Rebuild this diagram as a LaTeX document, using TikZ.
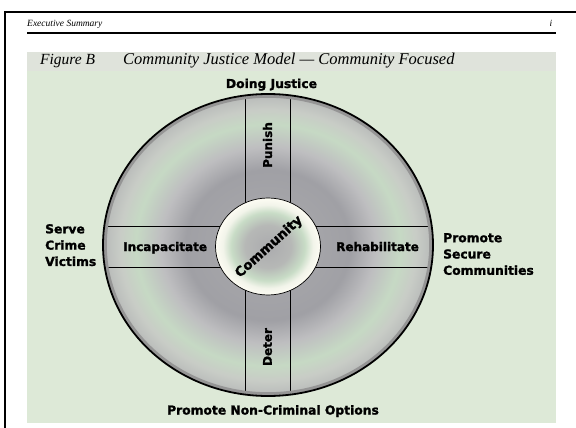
\documentclass[tikz,border=0pt]{standalone}
\usepackage{fontspec}
\newfontfamily\labfont{DejaVu Sans}[BoldFeatures={FakeBold=1.6}]
\newfontfamily\serfont{Liberation Serif}
\definecolor{panelgreen}{HTML}{DDE9D7}
\definecolor{titleband}{HTML}{DFE3DB}
\definecolor{dA}{HTML}{9C9CA0}
\definecolor{dB}{HTML}{A4A4A8}
\definecolor{dC}{HTML}{A0A0A5}
\definecolor{dD}{HTML}{BEBEC0}
\definecolor{dE}{HTML}{C6D9C4}
\definecolor{dF}{HTML}{C8CCC6}
\definecolor{dG}{HTML}{BEC1BE}
\definecolor{dH}{HTML}{B6B8B6}
\definecolor{rimgray}{HTML}{959595}
\definecolor{cA}{HTML}{ABABAE}
\definecolor{cB}{HTML}{B6B8B6}
\definecolor{cC}{HTML}{C8DCC6}
\definecolor{cD}{HTML}{F2F4EA}
\definecolor{cE}{HTML}{FDFCF3}
\pgfdeclareradialshading{discshade}{\pgfpoint{0bp}{0bp}}{color(0bp)=(dA);color(8bp)=(dB);color(12.5bp)=(dC);color(16.25bp)=(dD);color(20bp)=(dE);color(22.5bp)=(dF);color(24bp)=(dG);color(25bp)=(dH);color(50bp)=(dH)}
\pgfdeclareradialshading{coreshade}{\pgfpoint{0bp}{0bp}}{color(0bp)=(cA);color(11bp)=(cB);color(17.5bp)=(cC);color(21.5bp)=(cD);color(25bp)=(cE);color(50bp)=(cE)}
\tikzset{
  lab/.style={font=\labfont\bfseries\fontsize{12.3}{16.3}\selectfont, inner sep=0pt},
  inlab/.style={font=\labfont\bfseries\fontsize{12}{14}\selectfont, inner sep=0pt},
  ttl/.style={font=\serfont\itshape\fontsize{15.5}{18}\selectfont, inner sep=0pt},
  hdr/.style={font=\serfont\itshape\fontsize{9.5}{11}\selectfont, inner sep=0pt},
  bandline/.style={line width=0.6pt, black}
}
\begin{document}
\begin{tikzpicture}[x=1pt,y=-1pt]
\useasboundingbox (0,0) rectangle (576,428);
\fill[white] (0,0) rectangle (576,428);
% page frame
\draw[line width=1.8pt] (5,428) -- (5,12) -- (576,12);
\node[hdr, anchor=base west] (hdrtxt) at (27,27) {Executive Summary};
\node[hdr, anchor=base] (pgno) at (551,27) {i};
\draw[line width=1.6pt] (27,33) -- (556,33);
% panel
\fill[panelgreen] (27,52) rectangle (556,423);
\fill[titleband] (27,52) rectangle (556,71);
\node[ttl, anchor=base west] (figb) at (40,65) {Figure B};
\node[ttl, anchor=base west, font=\serfont\itshape\fontsize{16.5}{18}\selectfont] (figtitle) at (123,65) {Community Justice Model — Community Focused};
% big disc
\coordinate (c) at (268,245);
\shade[shading=discshade] (c) ellipse [x radius=165pt, y radius=151pt];
\begin{scope}
  \clip (c) ellipse [x radius=165pt, y radius=151pt];
  \draw[bandline] (245,80) -- (245,410);
  \draw[bandline] (290,80) -- (290,410);
  \draw[bandline] (90,226) -- (450,226);
  \draw[bandline] (90,267) -- (450,267);
\end{scope}
\draw[line width=3pt, rimgray] (c) ellipse [x radius=162.7pt, y radius=148.7pt];
\draw[line width=1.8pt] (c) ellipse [x radius=165pt, y radius=151pt];
% inner disc
\coordinate (ci) at (268,246.5);
\shade[shading=coreshade] (ci) ellipse [x radius=52.5pt, y radius=48.5pt];
\draw[line width=0.7pt] (ci) ellipse [x radius=52.5pt, y radius=48.5pt];
% labels
\node[lab, anchor=base] (doing) at (271.5,88) {Doing Justice};
\node[lab, anchor=north west, align=left] (serve) at (45,224) {Serve\\Crime\\Victims};
\node[lab, anchor=north west, align=left] (secure) at (443,233) {Promote\\Secure\\Communities};
\node[lab, anchor=base] (noncrim) at (273,414.5) {Promote Non-Criminal Options};
\node[inlab, anchor=base west] (incap) at (123,251) {Incapacitate};
\node[inlab, anchor=base west] (rehab) at (336,251) {Rehabilitate};
\node[inlab, rotate=90] (punish) at (267.5,145) {Punish};
\node[inlab, rotate=90] (deter) at (267.5,347) {Deter};
\node[font=\labfont\bfseries\fontsize{13.3}{15}\selectfont, inner sep=0pt, rotate=42] (commu) at (269,247) {Community};
\end{tikzpicture}
\end{document}
